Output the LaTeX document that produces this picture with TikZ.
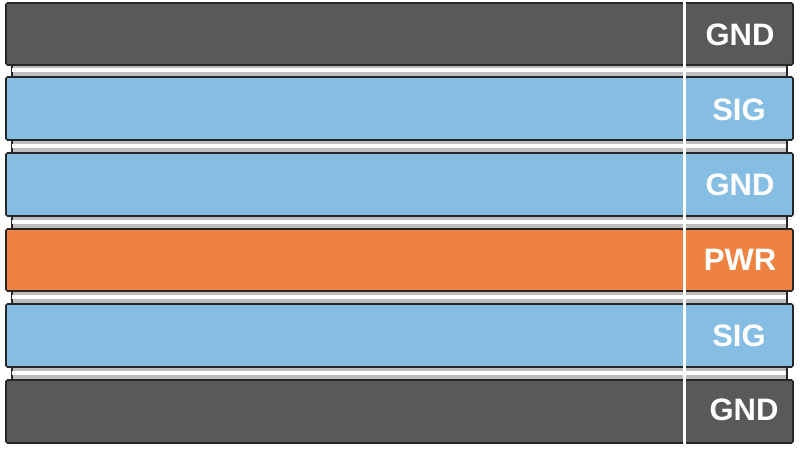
\documentclass[tikz,border=0pt]{standalone}
\usepackage{fontspec}
\setmainfont{Liberation Sans}
\definecolor{gndgray}{HTML}{58595B}
\definecolor{sigblue}{HTML}{86BDE3}
\definecolor{pwrorange}{HTML}{EE8240}
\definecolor{sepgray}{HTML}{BDBDBD}
\begin{document}
\begin{tikzpicture}[x=1pt,y=-1pt,
  layer/.style={draw=black!85, line width=1.6pt, rounded corners=1.5pt, minimum width=787pt, minimum height=62pt, inner sep=0pt},
  sep/.style={draw=black!85, line width=1.4pt, fill=sepgray, minimum width=775pt, minimum height=16pt, inner sep=0pt},
  lbl/.style={text=white, font=\fontsize{31}{31}\selectfont\bfseries, inner sep=0pt}]
\useasboundingbox (0,0) rectangle (800,449);
\fill[white] (0,0) rectangle (800,449);
% separators
\foreach \y/\n in {71/s1,146.5/s2,222.5/s3,297.5/s4,373.5/s5}{
  \node[sep] (\n) at (399.5,\y) {};
  \fill[white] (\n.west) ++(0.7pt,2.5pt) rectangle ++(773.6pt,-3.8pt);
}
% layers
\node[layer, fill=gndgray, minimum height=62pt] (l1) at (399.5,34) {};
\node[layer, fill=sigblue, minimum height=63pt] (l2) at (399.5,108.5) {};
\node[layer, fill=sigblue, minimum height=63pt] (l3) at (399.5,184.5) {};
\node[layer, fill=pwrorange, minimum height=62pt] (l4) at (399.5,260) {};
\node[layer, fill=sigblue, minimum height=63pt] (l5) at (399.5,335.5) {};
\node[layer, fill=gndgray, minimum height=63pt] (l6) at (399.5,411.5) {};
% divider line
\coordinate (vt) at (684,0);
\coordinate (vb) at (684,449);
\draw[white, line width=3pt] (vt) -- (vb);
% labels
\node[lbl] (t1) at (740,35) {GND};
\node[lbl] (t2) at (739,110) {SIG};
\node[lbl] (t3) at (740,185) {GND};
\node[lbl] (t4) at (740,260) {PWR};
\node[lbl] (t5) at (739,336) {SIG};
\node[lbl] (t6) at (744,410) {GND};
\end{tikzpicture}
\end{document}
